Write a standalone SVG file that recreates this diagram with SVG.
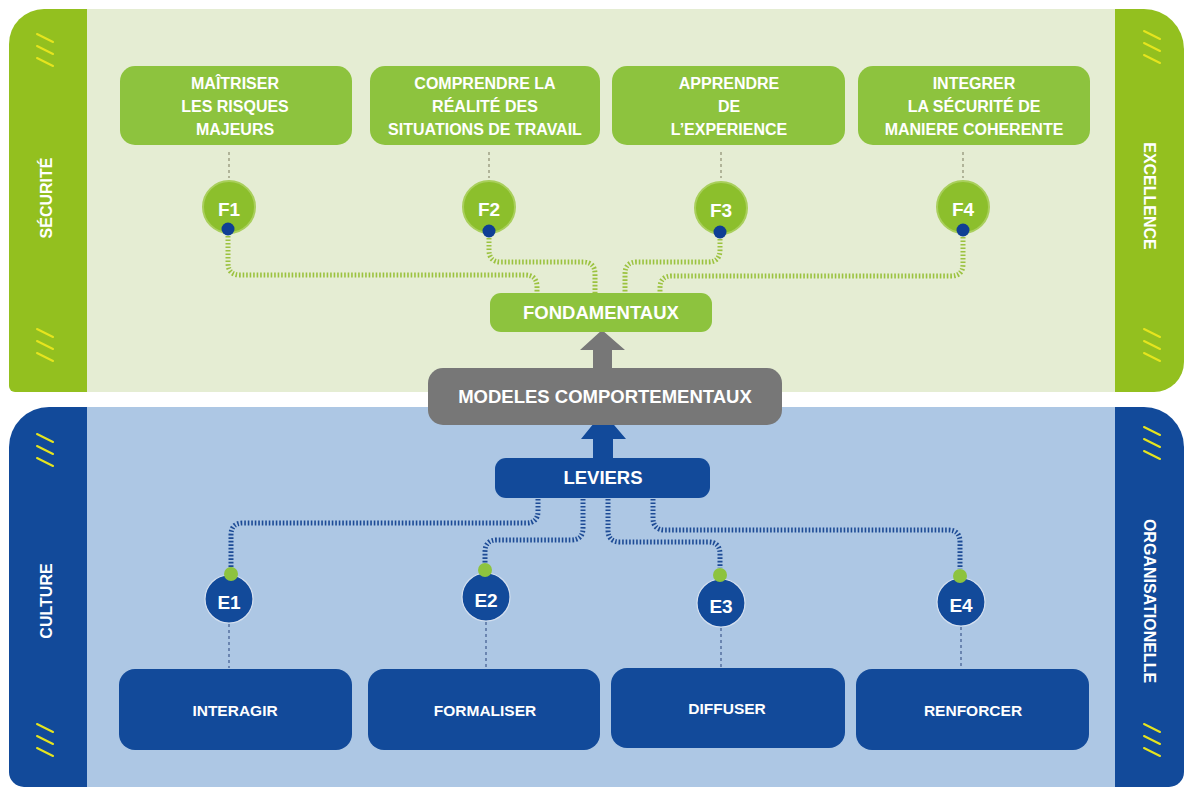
<svg xmlns="http://www.w3.org/2000/svg" width="1186" height="787" viewBox="0 0 1186 787">
  <style>
    .lbl { font-family: "Liberation Sans", Arial, sans-serif; font-weight: bold; fill: #ffffff; text-anchor: middle; }
    .box-t { font-size: 15.5px; }
    .box-top { font-size: 16px; }
    .side { font-size: 16px; }
    .big { font-size: 18.5px; }
    .num { font-size: 19px; }
    .gbox { fill: #8dc33e; }
    .bbox { fill: #124a9a; }
    .fcirc { fill: #8cbf2c; stroke: #a9cf5c; stroke-width: 2; }
    .ecirc { fill: #124a9a; stroke: #d5e0ef; stroke-width: 1.2; }
    .dot-blue { fill: #0f3f94; }
    .dot-green { fill: #8dc33e; }
    .slash { stroke: #e6e41e; stroke-width: 2; stroke-linecap: round; }
    .link-g { fill: none; stroke: #9bc23f; stroke-width: 5; stroke-dasharray: 1.6 1.9; }
    .link-b { fill: none; stroke: #1d4b95; stroke-width: 5; stroke-dasharray: 1.6 1.9; }
    .tick-g { fill: none; stroke: #a3a58a; stroke-width: 1.6; stroke-dasharray: 3 3; }
    .tick-b { fill: none; stroke: #5a75a3; stroke-width: 1.6; stroke-dasharray: 3 3; }
  </style>
  <defs>
    <g id="slashes">
      <line class="slash" x1="-8" y1="-16" x2="8" y2="-8"/>
      <line class="slash" x1="-8" y1="-4" x2="8" y2="4"/>
      <line class="slash" x1="-8" y1="8" x2="8" y2="16"/>
    </g>
  </defs>

  <rect width="1186" height="787" fill="#ffffff"/>

  <!-- upper band: safety fundamentals -->
  <g id="band-top">
    <rect x="87" y="9" width="1028" height="383" fill="#e5edd3"/>
    <path d="M87,9 H44 A35,35 0 0 0 9,44 V386 A6,6 0 0 0 15,392 H87 Z" fill="#93c01f"/>
    <path d="M1115,9 H1144 A40,40 0 0 1 1184,49 V362 A30,30 0 0 1 1154,392 H1115 Z" fill="#93c01f"/>
    <use href="#slashes" x="45" y="50"/>
    <use href="#slashes" x="45" y="345"/>
    <use href="#slashes" x="1152" y="47"/>
    <use href="#slashes" x="1152" y="345"/>
    <text class="lbl side" transform="translate(52,198) rotate(-90)">SÉCURITÉ</text>
    <text class="lbl side" transform="translate(1144,196) rotate(90)">EXCELLENCE</text>
  </g>

  <!-- lower band: organisational levers -->
  <g id="band-bottom">
    <rect x="87" y="407" width="1028" height="380" fill="#adc7e4"/>
    <path d="M87,407 H49 A40,40 0 0 0 9,447 V772 A15,15 0 0 0 24,787 H87 Z" fill="#124a9a"/>
    <path d="M1115,407 H1144 A40,40 0 0 1 1184,447 V772 A15,15 0 0 1 1169,787 H1115 Z" fill="#124a9a"/>
    <use href="#slashes" x="45" y="450"/>
    <use href="#slashes" x="45" y="740"/>
    <use href="#slashes" x="1152" y="443"/>
    <use href="#slashes" x="1152" y="740"/>
    <text class="lbl side" transform="translate(52,601) rotate(-90)">CULTURE</text>
    <text class="lbl side" transform="translate(1144,601) rotate(90)">ORGANISATIONELLE</text>
  </g>

  <!-- connectors -->
  <g id="connectors">
    <line class="tick-g" x1="229" y1="152" x2="229" y2="178"/>
    <line class="tick-g" x1="489" y1="152" x2="489" y2="178"/>
    <line class="tick-g" x1="721" y1="152" x2="721" y2="178"/>
    <line class="tick-g" x1="963" y1="152" x2="963" y2="178"/>

    <path class="link-g" d="M228,236 V263 Q228,275 240,275 H525 Q537,275 537,287 V293"/>
    <path class="link-g" d="M489,238 V250 Q489,262 501,262 H583 Q595,262 595,274 V293"/>
    <path class="link-g" d="M720,239 V250 Q720,262 708,262 H637 Q625,262 625,274 V293"/>
    <path class="link-g" d="M963,237 V264 Q963,276 951,276 H672 Q660,276 660,288 V293"/>

    <path class="link-b" d="M538,499 V511 Q538,523 526,523 H243 Q231,523 231,535 V567"/>
    <path class="link-b" d="M583,499 V528 Q583,540 571,540 H497 Q485,540 485,552 V564"/>
    <path class="link-b" d="M608,499 V530 Q608,542 620,542 H708 Q720,542 720,554 V568"/>
    <path class="link-b" d="M653,499 V518 Q653,530 665,530 H948 Q960,530 960,542 V569"/>

    <line class="tick-b" x1="229" y1="624" x2="229" y2="668"/>
    <line class="tick-b" x1="486" y1="622" x2="486" y2="668"/>
    <line class="tick-b" x1="721" y1="628" x2="721" y2="667"/>
    <line class="tick-b" x1="961" y1="627" x2="961" y2="668"/>

    <!-- broad arrows between levels -->
    <path d="M593,370 V350 H580 L602,330 L625,350 H612 V370 Z" fill="#777777"/>
    <path d="M593,458 V439 H581 L603,412 L626,439 H613 V458 Z" fill="#124a9a"/>
  </g>

  <!-- fundamentals -->
  <g id="f-box-1">
    <rect class="gbox" x="120" y="66" width="232" height="79" rx="15"/>
    <text class="lbl box-top" x="235" y="89">MAÎTRISER</text>
    <text class="lbl box-top" x="235" y="112">LES RISQUES</text>
    <text class="lbl box-top" x="235" y="135">MAJEURS</text>
  </g>
  <g id="f-box-2">
    <rect class="gbox" x="370" y="66" width="230" height="79" rx="15"/>
    <text class="lbl box-top" x="485" y="89">COMPRENDRE LA</text>
    <text class="lbl box-top" x="485" y="112">RÉALITÉ DES</text>
    <text class="lbl box-top" x="485" y="135">SITUATIONS DE TRAVAIL</text>
  </g>
  <g id="f-box-3">
    <rect class="gbox" x="612" y="66" width="233" height="79" rx="15"/>
    <text class="lbl box-top" x="729" y="89">APPRENDRE</text>
    <text class="lbl box-top" x="729" y="112">DE</text>
    <text class="lbl box-top" x="729" y="135">L’EXPERIENCE</text>
  </g>
  <g id="f-box-4">
    <rect class="gbox" x="858" y="66" width="232" height="79" rx="15"/>
    <text class="lbl box-top" x="974" y="89">INTEGRER</text>
    <text class="lbl box-top" x="974" y="112">LA SÉCURITÉ DE</text>
    <text class="lbl box-top" x="974" y="135">MANIERE COHERENTE</text>
  </g>

  <g id="f1">
    <circle class="fcirc" cx="229" cy="207" r="26"/>
    <text class="lbl num" x="229" y="216">F1</text>
    <circle class="dot-blue" cx="228" cy="229" r="6.5"/>
  </g>
  <g id="f2">
    <circle class="fcirc" cx="489" cy="207" r="26"/>
    <text class="lbl num" x="489" y="216">F2</text>
    <circle class="dot-blue" cx="489" cy="231" r="6.5"/>
  </g>
  <g id="f3">
    <circle class="fcirc" cx="721" cy="208" r="26"/>
    <text class="lbl num" x="721" y="217">F3</text>
    <circle class="dot-blue" cx="720" cy="232" r="6.5"/>
  </g>
  <g id="f4">
    <circle class="fcirc" cx="963" cy="207" r="26"/>
    <text class="lbl num" x="963" y="216">F4</text>
    <circle class="dot-blue" cx="963" cy="230" r="6.5"/>
  </g>

  <g id="fondamentaux">
    <rect class="gbox" x="490" y="293" width="222" height="39" rx="11"/>
    <text class="lbl big" x="601" y="319">FONDAMENTAUX</text>
  </g>

  <g id="modeles">
    <rect x="428" y="368" width="354" height="57" rx="15" fill="#777777"/>
    <text class="lbl big" x="605" y="403">MODELES COMPORTEMENTAUX</text>
  </g>

  <g id="leviers">
    <rect class="bbox" x="495" y="458" width="215" height="40" rx="11"/>
    <text class="lbl big" x="603" y="484">LEVIERS</text>
  </g>

  <!-- levers -->
  <g id="e1">
    <circle class="ecirc" cx="229" cy="599" r="24"/>
    <text class="lbl num" x="229" y="609">E1</text>
    <circle class="dot-green" cx="231" cy="574" r="7"/>
  </g>
  <g id="e2">
    <circle class="ecirc" cx="486" cy="597" r="24"/>
    <text class="lbl num" x="486" y="607">E2</text>
    <circle class="dot-green" cx="485" cy="570" r="7"/>
  </g>
  <g id="e3">
    <circle class="ecirc" cx="721" cy="603" r="24"/>
    <text class="lbl num" x="721" y="613">E3</text>
    <circle class="dot-green" cx="720" cy="575" r="7"/>
  </g>
  <g id="e4">
    <circle class="ecirc" cx="961" cy="602" r="24"/>
    <text class="lbl num" x="961" y="612">E4</text>
    <circle class="dot-green" cx="960" cy="576" r="7"/>
  </g>

  <g id="e-box-1">
    <rect class="bbox" x="119" y="669" width="233" height="81" rx="16"/>
    <text class="lbl box-t" x="235" y="716">INTERAGIR</text>
  </g>
  <g id="e-box-2">
    <rect class="bbox" x="368" y="669" width="232" height="81" rx="16"/>
    <text class="lbl box-t" x="485" y="716">FORMALISER</text>
  </g>
  <g id="e-box-3">
    <rect class="bbox" x="611" y="668" width="234" height="80" rx="16"/>
    <text class="lbl box-t" x="727" y="714">DIFFUSER</text>
  </g>
  <g id="e-box-4">
    <rect class="bbox" x="856" y="669" width="233" height="81" rx="16"/>
    <text class="lbl box-t" x="973" y="716">RENFORCER</text>
  </g>
</svg>
